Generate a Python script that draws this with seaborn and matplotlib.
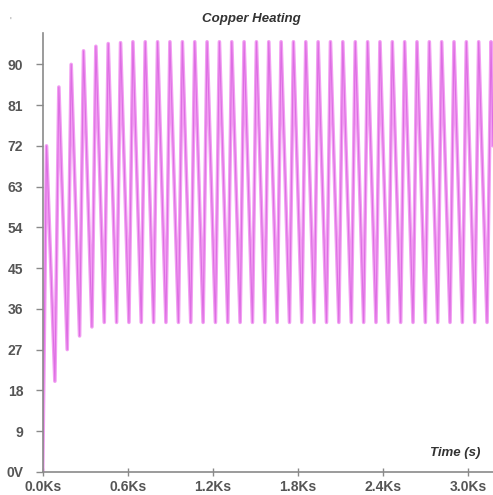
import matplotlib
matplotlib.use("Agg")
import matplotlib.pyplot as plt
import seaborn as sns
import pandas as pd

# Vertex times (Ks) of the heating/cooling curve and the temperatures read at them
time_ks = [0.000, 0.027, 0.086, 0.114, 0.173, 0.201, 0.260, 0.288, 0.347, 0.375,
           0.434, 0.462, 0.521, 0.549, 0.608, 0.636, 0.695, 0.723, 0.782, 0.810,
           0.869, 0.897, 0.957, 0.985, 1.044, 1.072, 1.131, 1.159, 1.218, 1.246,
           1.305, 1.333, 1.392, 1.420, 1.479, 1.507, 1.566, 1.594, 1.653, 1.681,
           1.740, 1.768, 1.827, 1.855, 1.914, 1.942, 2.001, 2.029, 2.088, 2.116,
           2.176, 2.204, 2.263, 2.291, 2.350, 2.378, 2.437, 2.465, 2.524, 2.552,
           2.611, 2.639, 2.698, 2.726, 2.785, 2.813, 2.872, 2.900, 2.959, 2.987,
           3.046, 3.074, 3.133, 3.161, 3.175]
temp = [0, 72, 20, 85, 27, 90, 30, 93, 32, 94,
        33, 94.6, 33, 94.8, 33, 95, 33, 95, 33, 95,
        33, 95, 33, 95, 33, 95, 33, 95, 33, 95,
        33, 95, 33, 95, 33, 95, 33, 95, 33, 95,
        33, 95, 33, 95, 33, 95, 33, 95, 33, 95,
        33, 95, 33, 95, 33, 95, 33, 95, 33, 95,
        33, 95, 33, 95, 33, 95, 33, 95, 33, 95,
        33, 95, 33, 95, 72]

y_ticks = [0, 9, 18, 27, 36, 45, 54, 63, 72, 81, 90]
y_tick_labels = ["0V", "9", "18", "27", "36", "45", "54", "63", "72", "81", "90"]
x_ticks = [0.0, 0.6, 1.2, 1.8, 2.4, 3.0]
x_tick_labels = ["0.0Ks", "0.6Ks", "1.2Ks", "1.8Ks", "2.4Ks", "3.0Ks"]

df = pd.DataFrame({"t": time_ks, "T": temp})

sns.set_theme(style="white")
plt.rcParams["font.family"] = ["Liberation Sans", "DejaVu Sans"]

fig = plt.figure(figsize=(4.93, 4.95), dpi=100)
ax = fig.add_axes([0.0866, 0.047, 0.9134, 0.886])

sns.lineplot(data=df, x="t", y="T", ax=ax, sort=False, estimator=None,
             color="#f29ef2", linewidth=2.6)
sns.lineplot(data=df, x="t", y="T", ax=ax, sort=False, estimator=None,
             color="#dd6ee3", linewidth=0.8)

ax.set_xlim(0, 3.175)
ax.set_ylim(0, 96.9)
ax.set_xticks(x_ticks)
ax.set_xticklabels(x_tick_labels)
ax.set_yticks(y_ticks)
ax.set_yticklabels(y_tick_labels)
ax.set_xlabel("")
ax.set_ylabel("")

for s in ["top", "right"]:
    ax.spines[s].set_visible(False)
for s in ["left", "bottom"]:
    ax.spines[s].set_color("#8a8a8a")
    ax.spines[s].set_linewidth(1.2)

ax.tick_params(axis="y", which="major", left=True, direction="out", length=5, width=1,
               color="#8a8a8a", labelcolor="#555555", labelsize=10, pad=9)
ax.tick_params(axis="x", which="major", bottom=True, direction="inout", length=6, width=1,
               color="#8a8a8a", labelcolor="#555555", labelsize=10, pad=3)
for lab in ax.get_xticklabels() + ax.get_yticklabels():
    lab.set_fontweight("bold")

fig.text(251 / 493, 1 - 22 / 495, "Copper Heating", ha="center", va="baseline",
         fontsize=9.5, fontstyle="italic", fontweight="bold", color="#333333")
fig.text(480 / 493, 1 - 456 / 495, "Time (s)", ha="right", va="baseline",
         fontsize=9.5, fontstyle="italic", fontweight="bold", color="#333333")
fig.text(10 / 493, 1 - 22 / 495, "'", ha="center", va="center",
         fontsize=7, color="#999999")

fig.savefig("out.png", dpi=100)
